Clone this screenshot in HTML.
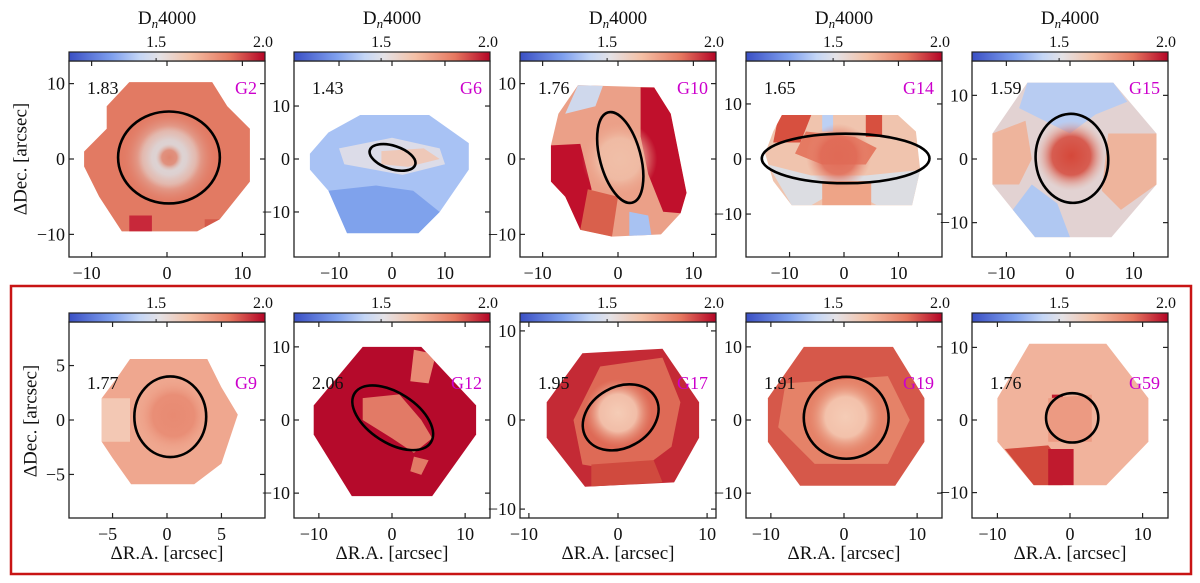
<!DOCTYPE html>
<html><head><meta charset="utf-8">
<style>
html,body{margin:0;padding:0;background:#fff;}
svg{display:block;font-family:"Liberation Serif","DejaVu Serif",serif;}
</style></head>
<body>
<svg id="fig" width="1200" height="583" viewBox="0 0 1200 583" xmlns="http://www.w3.org/2000/svg">
<defs>
<linearGradient id="cmap" x1="0" x2="1" y1="0" y2="0">
<stop offset="0" stop-color="#3a4fc4"/><stop offset="0.22" stop-color="#7fa0ee"/><stop offset="0.36" stop-color="#c4d6f6"/>
<stop offset="0.46" stop-color="#e4e2e6"/><stop offset="0.62" stop-color="#f4c0a6"/><stop offset="0.82" stop-color="#e67860"/><stop offset="1" stop-color="#b40426"/>
</linearGradient>
</defs>
<rect x="11" y="286" width="1180" height="288" fill="none" stroke="#c81414" stroke-width="2.5"/>
</svg>
<script>
const names=['G2','G6','G10','G14','G15','G9','G12','G17','G19','G59'];
const dnValues=['1.83','1.43','1.76','1.65','1.59','1.77','2.06','1.95','1.91','1.76'];
const xLims=[13,18.5,13,18,15.4,9,13.4,11,13.4,13.5];
const yLims=[13,18.5,13,17.8,15.4,9,13.4,11,13.4,13.5];
const tickLabels=[[-10,0,10],[-10,0,10],[-10,0,10],[-10,0,10],[-10,0,10],[-5,0,5],[-10,0,10],[-10,0,10],[-10,0,10],[-10,0,10]];
const cbarTicks=[1.5,2.0];
const cbarRange=[1.1,2.0];
const ellipseCx=[0.26,0.1,0.3,0.3,0.3,0.3,0.1,0.3,0.3,0.3];
const ellipseCy=[0.2,0.3,0.2,0.1,0.1,0.3,0.3,0.3,0.3,0.3];
const ellipseA=[6.75,4.5,2.7,15.4,5.7,3.3,6.2,4.5,5.8,3.6];
const ellipseB=[6.1,2.2,6.2,4.5,7.0,3.7,3.4,3.4,5.6,3.4];
const ellipseRot=[0,18,-15,0,-4,0,33,-30,0,0];

const shapes=[
 [[-5,10.2],[6,10.2],[8,7],[11,4],[11,-3],[7,-8],[4,-9.6],[-6,-9.6],[-9,-5],[-11,-1],[-11,1],[-8,4],[-8,7]],
 [[-6,8.3],[7,8.3],[14.5,3],[14.5,-2],[9,-10],[5,-14],[-8.5,-14],[-12,-6],[-15.5,-2],[-15.5,1],[-12,5]],
 [[-5.3,9.8],[4.8,9.5],[7,6],[9.1,-4.5],[8.3,-7.2],[5.7,-10],[-0.8,-10.3],[-5,-9.4],[-7,-5],[-8.9,-3],[-8.9,1.8],[-7.9,6]],
 [[-11.4,8],[9.9,8],[13.2,5],[14,-2],[12.5,-8.4],[-9.6,-8.4],[-13,-4],[-14.5,1],[-13,5]],
 [[-6.7,12],[6.8,12],[13.6,4],[13.6,-4],[6.5,-12.3],[-5.5,-12.3],[-12.2,-4],[-12.2,4]],
 [[-3.4,5.6],[3.7,5.6],[5,3],[6.5,0.5],[5,-4],[2.5,-5.9],[-3.3,-5.9],[-5,-3.5],[-6,-2],[-6,2],[-4.5,4]],
 [[-4,10],[4,10],[11.5,2],[11.5,-2],[5.5,-10.4],[-5.5,-10.4],[-10.7,-2],[-10.7,2]],
 [[-4,7.5],[5,8],[9.1,2],[9.1,-2],[6.3,-7],[-3.7,-7.5],[-8,-2],[-8,2]],
 [[-5.5,10],[6.7,10],[11,3],[11,-3],[7,-9],[-6,-9],[-10.4,-3],[-10.4,3]],
 [[-5.6,10.5],[5,10.5],[10.8,3],[10.8,-3],[5,-9],[-5,-9],[-10,-3],[-10,3]]
];
const baseColors=['#e27a63','#a8c2f4','#eba088','#f0c4ae','#e2d2d2','#efa78f','#b50a2b','#c42a35','#d6584a','#f1b39c'];
const regions=[
 [0,'#c8283a',[[-5,-7.5],[-2,-7.5],[-2,-9.6],[-5,-9.6]]],
 [0,'#d45a4a',[[5,-8],[7,-8],[7,-9.6],[5,-9.6]]],
 [1,'#7fa2ec',[[-12,-6],[-3,-5],[4,-6],[9,-10],[5,-14],[-8.5,-14]]],
 [1,'#dcdce8',[[-10,2],[0,4],[9,2],[10,-1],[2,-3],[-9,-1]]],
 [1,'#eec8b8',[[-2,1.5],[6,2],[9,0],[3,-1.5],[-2,-1]]],
 [2,'#c0102c',[[3,9.5],[4.8,9.5],[7,6],[9.1,-4.5],[8.3,-7.2],[6,-7],[4,-2],[3,3]]],
 [2,'#c0102c',[[-8.9,1.8],[-5,2],[-3.5,-4],[-5,-9.4],[-7,-5],[-8.9,-3]]],
 [2,'#d9604c',[[-4,-4],[0,-5],[-0.8,-10.3],[-5,-9.4]]],
 [2,'#a8c2f2',[[1.5,-7],[4,-7.5],[4.5,-10.5],[1.5,-10.5]]],
 [2,'#cfd8ec',[[-5.3,9.8],[-2,9.7],[-3,7],[-7,6]]],
 [3,'#e57a62',[[-7,5],[2,4],[6,2],[4,-1],[-4,-1],[-9,1]]],
 [3,'#d7503f',[[-12,8],[-6,8],[-8,3],[-13,3]]],
 [3,'#d7503f',[[4,8],[7,8],[7,4],[4,4]]],
 [3,'#bcd0f4',[[-4,8],[-2,8],[-2,5],[-4,5]]],
 [3,'#dcdde2',[[-14,-1],[-6,-3],[4,-3],[14,-2],[12.5,-8.4],[6,-8.4],[0,-5],[-6,-8.4],[-9.6,-8.4]]],
 [3,'#eea487',[[-4,-4],[5,-4],[5,-8.4],[-4,-8.4]]],
 [4,'#b8ccf2',[[-6.7,12],[6.8,12],[9,9],[4,7],[0,4],[-4,6],[-8,8]]],
 [4,'#b0c8f2',[[-6,-4],[-2,-7],[0,-12.3],[-5.5,-12.3],[-9,-8]]],
 [4,'#eeb49c',[[6,4],[13.6,4],[13.6,-4],[8,-8],[5,-5]]],
 [4,'#eeb49c',[[-12.2,4],[-7,6],[-6,0],[-8,-4],[-12.2,-4]]],
 [5,'#f3c8b4',[[-6,2],[-3.4,2],[-3.4,-2],[-6,-2]]],
 [6,'#e98a74',[[3,9.6],[6,9],[5,5],[2.5,5.3]]],
 [6,'#e27a66',[[-4,3],[1,3.5],[4,0],[5.5,-2.5],[3,-4.5],[0,-2.5],[-4,0]]],
 [6,'#e27a66',[[3,-5],[5,-5.5],[4,-7.5],[2.5,-7]]],
 [7,'#de6a56',[[-2,6],[5,7],[7,2],[6,-3],[2,-6],[-4,-5],[-5,0]]],
 [7,'#d04a3e',[[-3,-5],[4,-4.5],[5,-7],[-3,-7.5]]],
 [8,'#e58268',[[-8,5],[6,6],[9,0],[6,-6],[-4,-6],[-9,-1]]],
 [9,'#d24a3c',[[-9,-4],[-3,-3.5],[-1,-6],[-1,-9],[-5,-9]]],
 [9,'#c01a2e',[[-3,-4],[0.5,-4],[0.5,-9],[-3,-9]]],
 [9,'#c01a2e',[[-2.5,3.5],[-1,3.5],[-1,1],[-2.5,1]]],
 [9,'#ec9a82',[[-3,3],[3,3.5],[3,-3],[-3,-3]]]
];
// radial highlights: [panel, cx, cy, r, innerColor, outerColor]
const blobs=[
 [0,0.3,0.2,6.4,'#e4b8ac','#e07b66'],
 [0,0.3,0.2,4.2,'#dcd6d8','#e2cac4'],
 [0,0.3,0.2,1.8,'#e08670','#e3b4a6'],
 [2,0.2,0,5,'#f0bfa8','#eba088'],
 [3,-1,0.5,6,'#e06a56','#e8907a'],
 [4,0.2,0.5,5.5,'#d5483a','#e7ab98'],
 [5,0.6,0.4,3.5,'#e88a72','#efa78f'],
 [7,0,0.8,3.8,'#f5ccb6','#e89a80'],
 [8,0.2,0.4,5,'#f5ccb6','#e89a80']
];

const NS='http://www.w3.org/2000/svg';
const svg=document.getElementById('fig');
const W=196;
const xs=[69,294,520,746,972];
function el(t,a,p){const e=document.createElementNS(NS,t);for(const k in a)e.setAttribute(k,a[k]);(p||svg).appendChild(e);return e;}
function fmt(v){return v<0?'\u2212'+Math.abs(v):String(v);}

names.forEach((nm,i)=>{
  const row=i<5?0:1, col=i%5;
  const x0=xs[col], y0=row?322:61;
  const xl=xLims[i], yl=yLims[i];
  const sx=v=>x0+(v+xl)/(2*xl)*W;
  const sy=v=>y0+(yl-v)/(2*yl)*W;
  const g=el('g',{});
  
  
  const cid='clip'+i;
  const cp=el('clipPath',{id:cid},g);
  const pts=shapes[i].map(p=>sx(p[0]).toFixed(1)+','+sy(p[1]).toFixed(1)).join(' ');
  el('polygon',{points:pts},cp);
  const map=el('g',{'clip-path':'url(#'+cid+')'},g);
  
  
  el('rect',{x:x0,y:y0,width:W,height:W,fill:baseColors[i]},map);
  regions.filter(r=>r[0]===i).forEach(r=>{
    el('polygon',{points:r[2].map(p=>sx(p[0]).toFixed(1)+','+sy(p[1]).toFixed(1)).join(' '),fill:r[1]},map);
  });
  blobs.filter(b=>b[0]===i).forEach((b,k)=>{
    const gid='rg'+i+'_'+k;
    const rg=el('radialGradient',{id:gid},svg.querySelector('defs'));
    el('stop',{offset:'0','stop-color':b[4]},rg);
    el('stop',{offset:'0.55','stop-color':b[4],'stop-opacity':'0.85'},rg);
    el('stop',{offset:'1','stop-color':b[5],'stop-opacity':'0'},rg);
    const r=b[3]/(2*xl)*W;
    el('circle',{cx:sx(b[1]),cy:sy(b[2]),r:r,fill:'url(#'+gid+')'},map);
  });
  const e=el('ellipse',{cx:sx(ellipseCx[i]),cy:sy(ellipseCy[i]),rx:ellipseA[i]/(2*xl)*W,ry:ellipseB[i]/(2*yl)*W,fill:'none',stroke:'#000','stroke-width':2.6,
    transform:'rotate('+ellipseRot[i]+' '+sx(ellipseCx[i])+' '+sy(ellipseCy[i])+')'},g);
  
  
  el('rect',{x:x0,y:y0,width:W,height:W,fill:'none',stroke:'#222','stroke-width':1.3},g);
  tickLabels[i].forEach(t=>{
    const X=sx(t), Y=sy(t);
    el('line',{x1:X,x2:X,y1:y0+W,y2:y0+W-5,stroke:'#222','stroke-width':1.2},g);
    el('line',{x1:X,x2:X,y1:y0,y2:y0+5,stroke:'#222','stroke-width':1.2},g);
    el('line',{x1:x0,x2:x0+5,y1:Y,y2:Y,stroke:'#222','stroke-width':1.2},g);
    el('line',{x1:x0+W,x2:x0+W-5,y1:Y,y2:Y,stroke:'#222','stroke-width':1.2},g);
    const tx=el('text',{x:X-(t<0?5:0),y:y0+W+22,'text-anchor':'middle','font-size':18,fill:'#111'},g);
    tx.textContent=fmt(t);
    
    
    const ty=el('text',{x:x0-4,y:Y+6,'text-anchor':'end','font-size':18,fill:'#111'},g);
    ty.textContent=fmt(t);
    
    
  });
  const cb=el('rect',{x:x0,y:y0-9,width:W,height:9,fill:'url(#cmap)',stroke:'#222','stroke-width':1.2},g);
  
  
  cbarTicks.forEach(t=>{
    const X=x0+(t-cbarRange[0])/(cbarRange[1]-cbarRange[0])*W;
    el('line',{x1:X,x2:X,y1:y0,y2:y0-3,stroke:'#222','stroke-width':1},g);
    const ct=el('text',{x:X-(t===2?2:0),y:y0-14,'text-anchor':'middle','font-size':16,fill:'#111'},g);
    ct.textContent=t.toFixed(1);
    
    
  });
  if(row===0){
    const tt=el('text',{x:x0+W/2,y:24,'text-anchor':'middle','font-size':19,fill:'#111'},g);
    tt.innerHTML='D<tspan font-style="italic" font-size="13" dy="4">n</tspan><tspan dy="-4">4000</tspan>';
    
    
  } else {
    const xt=el('text',{x:x0+W/2,y:559,'text-anchor':'middle','font-size':19,fill:'#111'},g);
    xt.textContent='\u0394R.A. [arcsec]';
    
    
  }
  const vl=el('text',{x:x0+18,y:y0+(row?67:33),'font-size':18,fill:'#111'},g);
  vl.textContent=dnValues[i];
  
  
  const nl=el('text',{x:x0+W-8,y:y0+(row?67:33),'text-anchor':'end','font-size':18,fill:'#cc00cc'},g);
  nl.textContent=nm;
  
  
});
[[22,159],[32,421]].forEach(p=>{
  const t=el('text',{x:p[0],y:p[1],'text-anchor':'middle','font-size':19,fill:'#111',transform:'rotate(-90 '+p[0]+' '+p[1]+')','dominant-baseline':'middle'});
  t.textContent='\u0394Dec. [arcsec]';
  
  
});
</script>
</body></html>
